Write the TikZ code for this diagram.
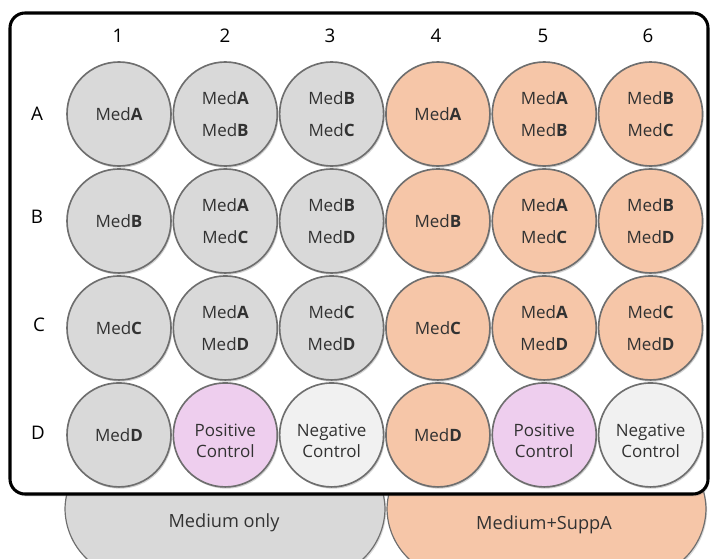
\documentclass[tikz,border=0pt]{standalone}
\usepackage{fontspec}
\setmainfont{Open Sans}
\usetikzlibrary{positioning, shadows}

\definecolor{wellgray}{RGB}{217,217,217}
\definecolor{wellorange}{RGB}{246,198,168}
\definecolor{wellpink}{RGB}{238,206,238}
\definecolor{wellwhite}{RGB}{241,241,241}
\definecolor{rimgray}{RGB}{110,110,110}
\definecolor{inkgray}{RGB}{50,50,50}

\newcommand{\wellmed}[1]{Med\textbf{#1}}

\begin{document}
\begin{tikzpicture}[
    x=0.03cm, y=-0.03cm,
    well/.style={draw=rimgray, line width=1.4pt, circle, minimum size=3.12cm, inner sep=0pt, align=center, text=inkgray, font=\fontsize{14.5}{16}\selectfont, drop shadow={shadow xshift=1pt, shadow yshift=-1.5pt, opacity=0.35}},
    ctrl/.style={well, font=\fontsize{14.5}{16}\selectfont},
    axis/.style={font=\fontsize{16}{18}\selectfont, text=black},
    tab/.style={draw=rimgray, line width=1pt, rounded corners=2.1cm, drop shadow={shadow xshift=1pt, shadow yshift=-1.5pt, opacity=0.3}},
    tablabel/.style={font=\fontsize{15.5}{18}\selectfont, text=inkgray}
]
    \clip (0,0) rectangle (710,558);

    % tabs under the plate
    \draw[tab, fill=wellgray] (65,440) rectangle (385,578);
    \draw[tab, fill=wellorange] (387,440) rectangle (706,578);
    \node[tablabel] (medonly) at (224,523) {Medium only};
    \node[tablabel] (medsupp) at (544,525) {Medium+SuppA};

    % plate
    \draw[line width=2.6pt, fill=white, rounded corners=0.45cm, drop shadow={shadow xshift=1pt, shadow yshift=-2pt, opacity=0.3}] (10,13) rectangle (708,494);

    % column numbers
    \node[axis] (c1) at (118,36) {1};
    \node[axis] (c2) at (225,36) {2};
    \node[axis] (c3) at (330,36) {3};
    \node[axis] (c4) at (436,36) {4};
    \node[axis] (c5) at (543,36) {5};
    \node[axis] (c6) at (648,36) {6};

    % row letters
    \node[axis] (ra) at (37,114) {A};
    \node[axis] (rb) at (37,217) {B};
    \node[axis] (rc) at (39,325) {C};
    \node[axis] (rd) at (38,433) {D};

    % row A
    \node[well, fill=wellgray] (a1) at (119,114) {\wellmed{A}};
    \node[well, fill=wellgray, right=0.02cm of a1] (a2) {\wellmed{A}\\[11pt]\wellmed{B}};
    \node[well, fill=wellgray, right=0.02cm of a2] (a3) {\wellmed{B}\\[11pt]\wellmed{C}};
    \node[well, fill=wellorange, right=0.02cm of a3] (a4) {\wellmed{A}};
    \node[well, fill=wellorange, right=0.02cm of a4] (a5) {\wellmed{A}\\[11pt]\wellmed{B}};
    \node[well, fill=wellorange, right=0.02cm of a5] (a6) {\wellmed{B}\\[11pt]\wellmed{C}};

    % row B
    \node[well, fill=wellgray, below=0.04cm of a1] (b1) {\wellmed{B}};
    \node[well, fill=wellgray, right=0.02cm of b1] (b2) {\wellmed{A}\\[11pt]\wellmed{C}};
    \node[well, fill=wellgray, right=0.02cm of b2] (b3) {\wellmed{B}\\[11pt]\wellmed{D}};
    \node[well, fill=wellorange, right=0.02cm of b3] (b4) {\wellmed{B}};
    \node[well, fill=wellorange, right=0.02cm of b4] (b5) {\wellmed{A}\\[11pt]\wellmed{C}};
    \node[well, fill=wellorange, right=0.02cm of b5] (b6) {\wellmed{B}\\[11pt]\wellmed{D}};

    % row C
    \node[well, fill=wellgray, below=0.04cm of b1] (c1w) {\wellmed{C}};
    \node[well, fill=wellgray, right=0.02cm of c1w] (c2w) {\wellmed{A}\\[11pt]\wellmed{D}};
    \node[well, fill=wellgray, right=0.02cm of c2w] (c3w) {\wellmed{C}\\[11pt]\wellmed{D}};
    \node[well, fill=wellorange, right=0.02cm of c3w] (c4w) {\wellmed{C}};
    \node[well, fill=wellorange, right=0.02cm of c4w] (c5w) {\wellmed{A}\\[11pt]\wellmed{D}};
    \node[well, fill=wellorange, right=0.02cm of c5w] (c6w) {\wellmed{C}\\[11pt]\wellmed{D}};

    % row D (controls)
    \node[well, fill=wellgray, below=0.04cm of c1w] (d1) {\wellmed{D}};
    \node[ctrl, fill=wellpink, right=0.02cm of d1] (d2) {\rule{0pt}{20pt}Positive\\[2pt]Control};
    \node[ctrl, fill=wellwhite, right=0.02cm of d2] (d3) {\rule{0pt}{20pt}Negative\\[2pt]Control};
    \node[well, fill=wellorange, right=0.02cm of d3] (d4) {\wellmed{D}};
    \node[ctrl, fill=wellpink, right=0.02cm of d4] (d5) {\rule{0pt}{20pt}Positive\\[2pt]Control};
    \node[ctrl, fill=wellwhite, right=0.02cm of d5] (d6) {\rule{0pt}{20pt}Negative\\[2pt]Control};

\end{tikzpicture}
\end{document}
